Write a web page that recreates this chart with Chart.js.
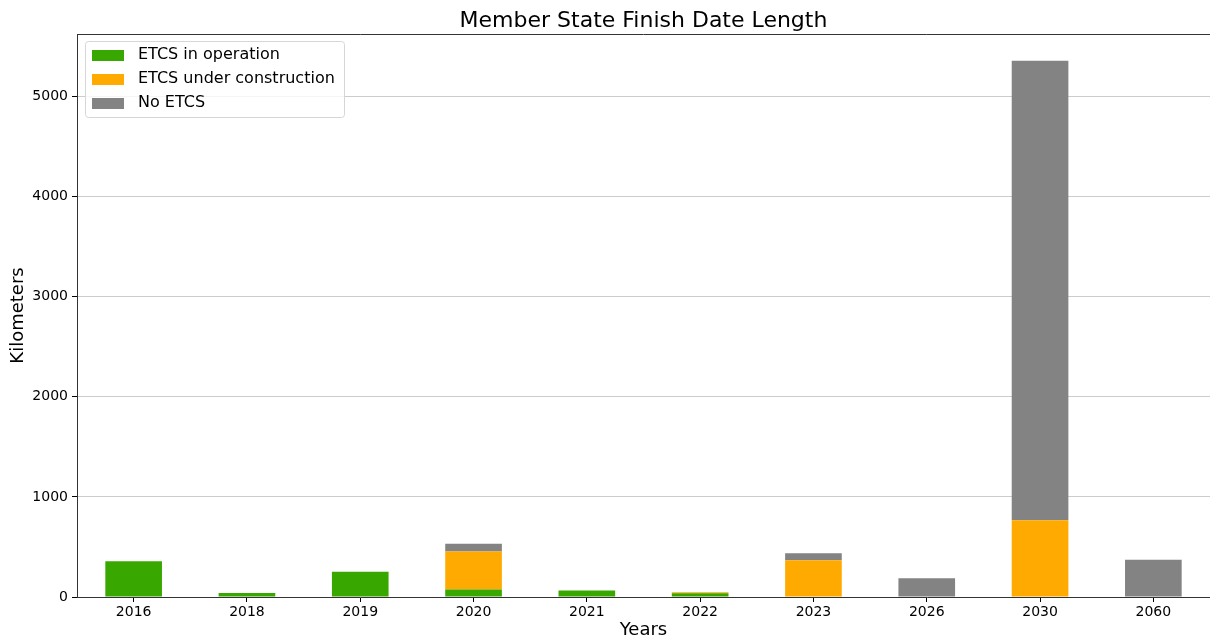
<!DOCTYPE html>
<html lang="en">
<head>
    <meta charset="UTF-8">
    <title>Member State Finish Date Length</title>
    <script src="https://cdn.jsdelivr.net/npm/chart.js"></script>
    <style>
        body { margin: 0; background: #fff; }
        #wrap { width: 1210px; height: 641px; }
    </style>
</head>
<body>
    <div id="wrap"><canvas id="finishChart"></canvas></div>

    <script>
        // Values (km), null = no bar
        const years = ['2016', '2018', '2019', '2020', '2021', '2022', '2023', '2026', '2030', '2060'];
        const inOperation = [357, 40, 253, 74, 64, 37, null, null, null, null];
        const underConstruction = [null, null, null, 380, null, 10, 366, null, 766, null];
        const noEtcs = [null, null, null, 77, null, null, 70, 187, 4592, 373];
        const yTicks = [0, 1000, 2000, 3000, 4000, 5000];
        const chartTitle = 'Member State Finish Date Length';

        const font = 'DejaVu Sans';
        Chart.defaults.font.family = font;
        Chart.defaults.color = '#000';

        // title over the plot area + legend drawn inside the plot, matplotlib style
        const boxLegend = {
            id: 'boxLegend',
            afterDraw(chart) {
                const ctx = chart.ctx;
                const area = chart.chartArea;
                ctx.save();
                // top spine
                ctx.strokeStyle = '#333';
                ctx.lineWidth = 1;
                ctx.beginPath();
                ctx.moveTo(area.left, area.top + 0.5);
                ctx.lineTo(area.right, area.top + 0.5);
                ctx.stroke();

                // title
                ctx.fillStyle = '#000';
                ctx.font = '22px "' + font + '"';
                ctx.textAlign = 'center';
                ctx.textBaseline = 'middle';
                ctx.fillText(chartTitle, (area.left + area.right) / 2, 21);

                const x = area.left + 8, y = area.top + 7, w = 259, h = 76;
                ctx.fillStyle = 'rgba(255,255,255,0.8)';
                ctx.strokeStyle = '#d6d6d6';
                ctx.beginPath();
                ctx.roundRect(x + 0.5, y + 0.5, w, h, 3);
                ctx.fill();
                ctx.stroke();
                ctx.font = '16px "' + font + '"';
                ctx.textAlign = 'left';
                chart.data.datasets.forEach((ds, i) => {
                    const cy = y + 14 + i * 24;
                    ctx.fillStyle = ds.backgroundColor;
                    ctx.fillRect(x + 7, cy - 5, 32, 11);
                    ctx.fillStyle = '#000';
                    ctx.fillText(ds.label, x + 53, cy);
                });
                ctx.restore();
            }
        };

        const ctx = document.getElementById('finishChart').getContext('2d');
        const finishChart = new Chart(ctx, {
            type: 'bar',
            data: {
                labels: years,
                datasets: [{
                    label: 'ETCS in operation',
                    data: inOperation,
                    backgroundColor: '#38a800'
                }, {
                    label: 'ETCS under construction',
                    data: underConstruction,
                    backgroundColor: '#ffaa00'
                }, {
                    label: 'No ETCS',
                    data: noEtcs,
                    backgroundColor: '#838383'
                }]
            },
            options: {
                responsive: true,
                maintainAspectRatio: false,
                animation: false,
                layout: { padding: { top: 34 } },
                datasets: {
                    bar: { categoryPercentage: 1.0, barPercentage: 0.5 }
                },
                plugins: {
                    legend: { display: false },
                    tooltip: { enabled: false },
                    title: { display: false }
                },
                scales: {
                    x: {
                        stacked: true,
                        afterFit(scale) { scale.height = 44; },
                        grid: {
                            offset: false,
                            drawOnChartArea: false,
                            tickLength: 5,
                            tickColor: '#000'
                        },
                        border: { color: '#333', width: 1 },
                        ticks: { color: '#000', font: { size: 14 }, padding: 2 },
                        title: {
                            display: true,
                            text: 'Years',
                            color: '#000',
                            font: { size: 18 },
                            padding: { top: 0, bottom: 0 }
                        }
                    },
                    y: {
                        stacked: true,
                        min: 0,
                        max: 5626,
                        afterFit(scale) { scale.width = 77; },
                        afterBuildTicks(scale) {
                            scale.ticks = yTicks.map(v => ({ value: v }));
                        },
                        grid: {
                            color: '#cccccc',
                            tickLength: 5,
                            tickColor: '#000'
                        },
                        border: { color: '#333', width: 1 },
                        ticks: {
                            color: '#000',
                            font: { size: 14 },
                            padding: 4,
                            callback: v => String(v)
                        },
                        title: {
                            display: true,
                            text: 'Kilometers',
                            color: '#000',
                            font: { size: 18 },
                            padding: { top: 8, bottom: 0 }
                        }
                    }
                }
            },
            plugins: [boxLegend]
        });
    </script>
</body>
</html>
